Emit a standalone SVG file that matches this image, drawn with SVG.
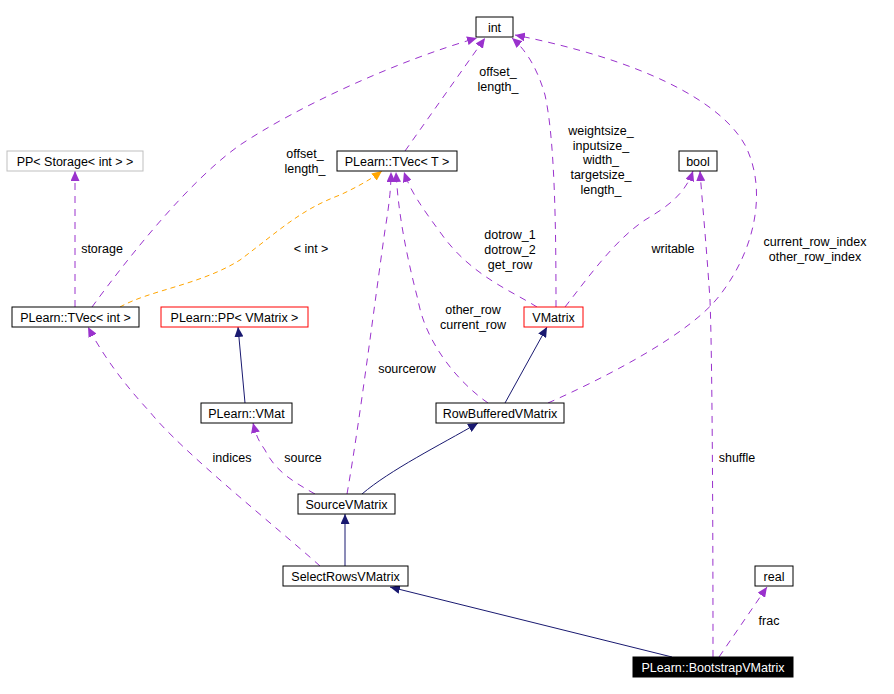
<svg xmlns="http://www.w3.org/2000/svg" width="894" height="694" viewBox="0 0 894 694">
<defs>
<style>
text{font-family:"Liberation Sans",Arial,sans-serif;font-size:12.5px;fill:#000}
.lbl{text-anchor:middle}
.box rect{fill:#fff;stroke:#000;stroke-width:1}
.box.red rect{stroke:#ff0000}
.box.gray rect{stroke:#bfbfbf}
.box.cur rect{fill:#000}
.box.cur text{fill:#fff}
.box text{text-anchor:middle}
.use{fill:none;stroke:#9a32cd;stroke-dasharray:7,6;marker-end:url(#ap)}
.tpl{fill:none;stroke:#ffa500;stroke-dasharray:5,4;marker-end:url(#ao)}
.inh{fill:none;stroke:#191970;marker-end:url(#an)}
</style>
<marker id="ap" markerUnits="userSpaceOnUse" markerWidth="11" markerHeight="9" refX="10" refY="4.5" orient="auto"><path d="M0,0 L10,4.5 L0,9 z" fill="#9a32cd"/></marker>
<marker id="ao" markerUnits="userSpaceOnUse" markerWidth="11" markerHeight="9" refX="10" refY="4.5" orient="auto"><path d="M0,0 L10,4.5 L0,9 z" fill="#ffa500"/></marker>
<marker id="an" markerUnits="userSpaceOnUse" markerWidth="11" markerHeight="9" refX="10" refY="4.5" orient="auto"><path d="M0,0 L10,4.5 L0,9 z" fill="#191970"/></marker>
</defs>
<rect width="894" height="694" fill="#fff"/>
<g id="connectors">
<path class="use" d="M92,307 C130,255 190,180 240,145 C300,105 400,60 477,38"/>
<path class="use" d="M405,151 L485,38"/>
<path class="use" d="M556,307 C556,230 555,140 545,95 C535,60 520,45 512,38"/>
<path class="use" d="M548,403 C600,380 690,335 720,295 C755,250 768,190 745,145 C720,100 640,60 515,35"/>
<path class="use" d="M537,307 C510,290 470,275 440,232 C420,205 410,190 404,172"/>
<path class="use" d="M488,403 C455,380 425,340 418,300 C405,250 398,210 396,172"/>
<path class="use" d="M347,494 C360,420 375,300 385,230 C390,200 391,185 391,172"/>
<path class="tpl" d="M120,307 C150,290 200,285 240,260 C280,230 300,210 340,195 C355,188 370,180 382,171"/>
<path class="use" d="M75,307 L75,171"/>
<path class="use" d="M565,307 C590,275 615,240 645,220 C665,208 685,195 693,171"/>
<path class="use" d="M713,657 C713,500 712,350 710,300 C706,240 702,200 700,171"/>
<path class="use" d="M719,657 L767,587"/>
<path class="use" d="M320,566 C280,530 180,450 150,412 C120,380 100,350 88,327"/>
<path class="use" d="M315,494 C290,480 275,470 265,450 C258,440 256,435 253,423"/>
<path class="inh" d="M245,403 L238,327"/>
<path class="inh" d="M505,403 L547,327"/>
<path class="inh" d="M362,494 C390,470 440,445 478,423"/>
<path class="inh" d="M345,566 L345,514"/>
<path class="inh" d="M672,657 L390,587"/>
<text class="lbl" x="305" y="158">offset_</text>
<text class="lbl" x="305" y="173">length_</text>
<text class="lbl" x="498" y="76">offset_</text>
<text class="lbl" x="498" y="91">length_</text>
<text class="lbl" x="601" y="135">weightsize_</text>
<text class="lbl" x="601" y="150">inputsize_</text>
<text class="lbl" x="601" y="164">width_</text>
<text class="lbl" x="601" y="179">targetsize_</text>
<text class="lbl" x="601" y="194">length_</text>
<text class="lbl" x="510" y="239">dotrow_1</text>
<text class="lbl" x="510" y="254">dotrow_2</text>
<text class="lbl" x="510" y="269">get_row</text>
<text class="lbl" x="473" y="314">other_row</text>
<text class="lbl" x="473" y="329">current_row</text>
<text class="lbl" x="407" y="373">sourcerow</text>
<text class="lbl" x="311" y="253">&lt; int &gt;</text>
<text class="lbl" x="102" y="253">storage</text>
<text class="lbl" x="673" y="253">writable</text>
<text class="lbl" x="815" y="246">current_row_index</text>
<text class="lbl" x="815" y="261">other_row_index</text>
<text class="lbl" x="737" y="462">shuffle</text>
<text class="lbl" x="769" y="625">frac</text>
<text class="lbl" x="232" y="462">indices</text>
<text class="lbl" x="303" y="462">source</text>
</g>
<g id="int" class="box"><rect x="476" y="17" width="37" height="20"/><text x="494.5" y="31.5">int</text></g>
<g id="tvecT" class="box"><rect x="337" y="151" width="120" height="20"/><text x="397" y="165.5">PLearn::TVec&lt; T &gt;</text></g>
<g id="ppStorage" class="box gray"><rect x="7" y="151" width="136" height="20"/><text x="75" y="165.5">PP&lt; Storage&lt; int &gt; &gt;</text></g>
<g id="bool" class="box"><rect x="679" y="151" width="38" height="20"/><text x="698" y="165.5">bool</text></g>
<g id="tvecInt" class="box"><rect x="12" y="307" width="127" height="20"/><text x="75.5" y="321.5">PLearn::TVec&lt; int &gt;</text></g>
<g id="ppVMatrix" class="box red"><rect x="161" y="307" width="147" height="20"/><text x="234.5" y="321.5">PLearn::PP&lt; VMatrix &gt;</text></g>
<g id="VMatrix" class="box red"><rect x="524" y="307" width="59" height="20"/><text x="553.5" y="321.5">VMatrix</text></g>
<g id="VMat" class="box"><rect x="201" y="403" width="91" height="20"/><text x="246.5" y="417.5">PLearn::VMat</text></g>
<g id="RowBufferedVMatrix" class="box"><rect x="436" y="403" width="128" height="20"/><text x="500" y="417.5">RowBufferedVMatrix</text></g>
<g id="SourceVMatrix" class="box"><rect x="298" y="494" width="97" height="20"/><text x="346.5" y="508.5">SourceVMatrix</text></g>
<g id="SelectRowsVMatrix" class="box"><rect x="283" y="566" width="125" height="20"/><text x="345.5" y="580.5">SelectRowsVMatrix</text></g>
<g id="real" class="box"><rect x="755" y="566" width="38" height="20"/><text x="774" y="580.5">real</text></g>
<g id="BootstrapVMatrix" class="box cur"><rect x="633" y="657" width="160" height="20"/><text x="713" y="671.5">PLearn::BootstrapVMatrix</text></g>
</svg>
